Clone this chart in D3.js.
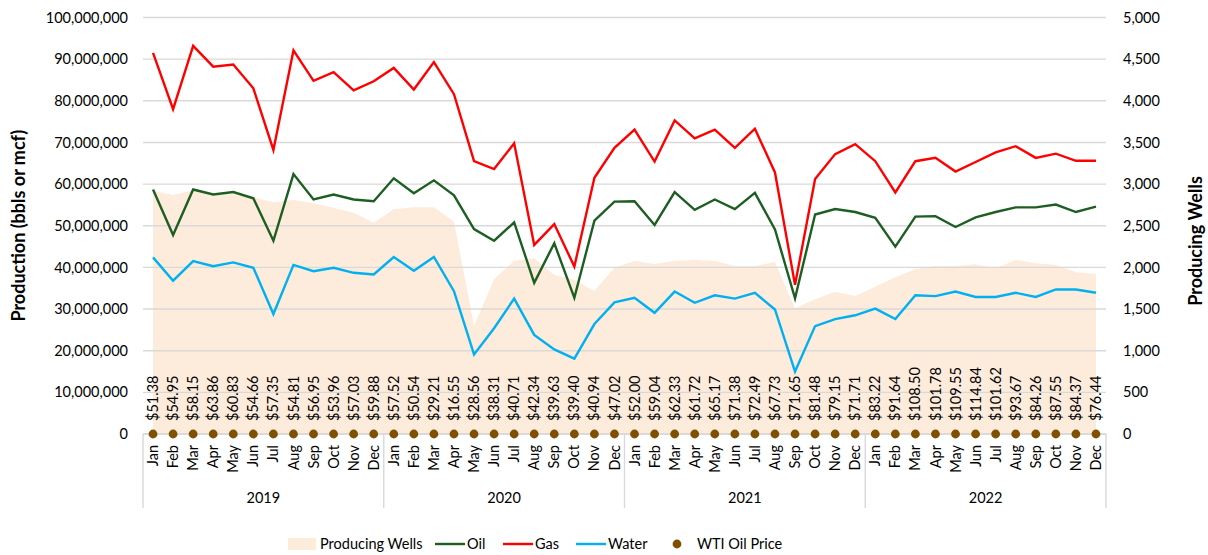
<!DOCTYPE html>
<html>
<head>
<meta charset="utf-8">
<script src="https://cdn.jsdelivr.net/npm/d3@7"></script>
<style>
  html, body { margin: 0; padding: 0; background: #fff; }
  svg { display: block; }
  text { font-family: Lato, "Open Sans", sans-serif; fill: #000; }
</style>
</head>
<body>
<svg id="chart" width="1208" height="555"></svg>
<script>
// ---------- DATA ----------
const years = ["2019", "2020", "2021", "2022"];
const months = ["Jan","Feb","Mar","Apr","May","Jun","Jul","Aug","Sep","Oct","Nov","Dec"];

const oil = [
  58.7, 47.8, 58.7, 57.5, 58.1, 56.6, 46.4, 62.4, 56.3, 57.5, 56.3, 55.9,
  61.4, 57.8, 60.9, 57.3, 49.2, 46.4, 50.8, 36.3, 45.8, 32.7, 51.2, 55.8,
  55.9, 50.2, 58.1, 53.8, 56.3, 54.0, 57.9, 49.1, 32.6, 52.7, 54.0, 53.3,
  51.9, 45.0, 52.2, 52.3, 49.7, 52.0, 53.3, 54.4, 54.4, 55.1, 53.3, 54.6
].map(v => v * 1e6);

const gas = [
  91.5, 78.0, 93.2, 88.2, 88.7, 83.0, 68.2, 92.1, 84.8, 86.9, 82.5, 84.7,
  87.9, 82.7, 89.3, 81.6, 65.5, 63.6, 69.8, 45.4, 50.4, 40.2, 61.5, 68.7,
  73.1, 65.4, 75.3, 71.0, 73.1, 68.7, 73.3, 62.8, 35.8, 61.2, 67.2, 69.6,
  65.5, 58.0, 65.5, 66.3, 63.0, 65.3, 67.6, 69.1, 66.3, 67.3, 65.6, 65.6
].map(v => v * 1e6);

const water = [
  42.4, 36.8, 41.5, 40.3, 41.2, 39.9, 28.8, 40.6, 39.1, 39.9, 38.7, 38.3,
  42.5, 39.2, 42.5, 34.3, 19.1, 25.4, 32.5, 23.8, 20.3, 18.1, 26.4, 31.6,
  32.7, 29.1, 34.2, 31.5, 33.3, 32.5, 33.9, 29.9, 15.0, 25.9, 27.6, 28.5,
  30.1, 27.6, 33.3, 33.1, 34.2, 32.9, 32.9, 33.9, 32.9, 34.7, 34.7, 33.9
].map(v => v * 1e6);

const producingWells = [
  2921, 2869, 2925, 2890, 2880, 2841, 2782, 2809, 2769, 2717, 2657, 2537,
  2697, 2721, 2721, 2549, 1297, 1857, 2081, 2109, 1909, 1849, 1717, 1995,
  2081, 2041, 2077, 2089, 2077, 2017, 2017, 2065, 1509, 1617, 1708, 1657,
  1768, 1881, 1977, 2017, 2017, 2037, 1989, 2089, 2049, 2029, 1941, 1921
];

const wtiPrice = [
  51.38, 54.95, 58.15, 63.86, 60.83, 54.66, 57.35, 54.81, 56.95, 53.96, 57.03, 59.88,
  57.52, 50.54, 29.21, 16.55, 28.56, 38.31, 40.71, 42.34, 39.63, 39.40, 40.94, 47.02,
  52.00, 59.04, 62.33, 61.72, 65.17, 71.38, 72.49, 67.73, 71.65, 81.48, 79.15, 71.71,
  83.22, 91.64, 108.50, 101.78, 109.55, 114.84, 101.62, 93.67, 84.26, 87.55, 84.37, 76.44
];

const leftTicks = d3.range(0, 100000001, 10000000);
const rightTicks = d3.range(0, 5001, 500);

// ---------- LAYOUT ----------
const svg = d3.select("#chart");
const X0 = 143, X1 = 1106, Y0 = 434, Y1 = 17.5;

const keys = [];
years.forEach(y => months.forEach(m => keys.push(y + "-" + m)));

const x = d3.scaleBand().domain(keys).range([X0, X1]).paddingInner(0).paddingOuter(0);
const cx = i => x(keys[i]) + x.bandwidth() / 2;
const yL = d3.scaleLinear().domain([0, 100000000]).range([Y0, Y1]);
const yR = d3.scaleLinear().domain([0, 5000]).range([Y0, Y1]);

const COL = { wells: "#fdebdb", oil: "#1d5f22", gas: "#ff0000", water: "#00b0f0", wti: "#7f5000", grid: "#d9d9d9" };

// Area (producing wells) on right axis
const area = d3.area()
  .x((d, i) => cx(i))
  .y0(Y0)
  .y1(d => yR(d));
svg.append("path")
  .datum(producingWells)
  .attr("d", area)
  .attr("fill", COL.wells);

// Gridlines
svg.append("g")
  .selectAll("line")
  .data(leftTicks)
  .join("line")
  .attr("x1", X0).attr("x2", X1)
  .attr("y1", d => yL(d)).attr("y2", d => yL(d))
  .attr("stroke", COL.grid).attr("stroke-width", 1.4);

// Left axis
const axL = svg.append("g").attr("transform", `translate(${X0},0)`)
  .call(d3.axisLeft(yL).tickValues(leftTicks).tickSize(0).tickPadding(15)
    .tickFormat(d => d3.format(",")(d)));
axL.select(".domain").remove();
axL.selectAll("text").style("font-size", "14.5px").style("font-family", "Lato, sans-serif");

// Right axis
const axR = svg.append("g").attr("transform", `translate(${X1},0)`)
  .call(d3.axisRight(yR).tickValues(rightTicks).tickSize(0).tickPadding(17)
    .tickFormat(d => d3.format(",")(d)));
axR.select(".domain").remove();
axR.selectAll("text").style("font-size", "14.5px").style("font-family", "Lato, sans-serif");

// Axis titles
svg.append("text")
  .attr("transform", `translate(25,${(Y0 + Y1) / 2}) rotate(-90)`)
  .attr("text-anchor", "middle")
  .style("font-size", "18px").style("font-weight", "bold")
  .text("Production (bbls or mcf)");
svg.append("text")
  .attr("transform", `translate(1202,241) rotate(-90)`)
  .attr("text-anchor", "middle")
  .style("font-size", "18px").style("font-weight", "bold")
  .text("Producing Wells");

// Lines
const line = d3.line().x((d, i) => cx(i)).y(d => yL(d));
[["oil", oil], ["gas", gas], ["water", water]].forEach(([k, arr]) => {
  svg.append("path")
    .datum(arr)
    .attr("d", line)
    .attr("fill", "none")
    .attr("stroke", COL[k])
    .attr("stroke-width", 2.4)
    .attr("stroke-linejoin", "miter");
});

// Category axis baseline
svg.append("line")
  .attr("x1", X0).attr("x2", X1).attr("y1", Y0).attr("y2", Y0)
  .attr("stroke", COL.grid).attr("stroke-width", 1.4);

// Year separators
const sepX = years.map((y, i) => x(keys[i * 12])).concat([X1]);
svg.append("g").selectAll("line").data(sepX).join("line")
  .attr("x1", d => d).attr("x2", d => d)
  .attr("y1", Y0).attr("y2", 508)
  .attr("stroke", COL.grid).attr("stroke-width", 1.4);

// Month labels
svg.append("g").selectAll("text").data(keys).join("text")
  .attr("transform", (d, i) => `translate(${cx(i)},445) rotate(-90)`)
  .attr("text-anchor", "end")
  .attr("dy", "0.35em")
  .style("font-size", "14.5px")
  .text(d => d.split("-")[1]);

// Year labels
svg.append("g").selectAll("text").data(years).join("text")
  .attr("x", (d, i) => (sepX[i] + sepX[i + 1]) / 2)
  .attr("y", 498)
  .attr("text-anchor", "middle")
  .attr("dy", "0.35em")
  .style("font-size", "14.5px")
  .text(d => d);

// WTI dots + labels
svg.append("g").selectAll("circle").data(wtiPrice).join("circle")
  .attr("cx", (d, i) => cx(i)).attr("cy", yL(0)).attr("r", 4.4)
  .attr("fill", COL.wti);
svg.append("g").selectAll("text").data(wtiPrice).join("text")
  .attr("transform", (d, i) => `translate(${cx(i)},421) rotate(-90)`)
  .attr("text-anchor", "start")
  .attr("dy", "0.35em")
  .style("font-size", "14.5px")
  .text(d => "$" + d3.format(".2f")(d));

// Legend
const LY = 544;
const lg = svg.append("g");
lg.append("rect").attr("x", 288).attr("y", LY - 6).attr("width", 28).attr("height", 12).attr("fill", COL.wells);
lg.append("text").attr("x", 320).attr("y", LY).attr("dy", "0.35em").style("font-size", "14.5px").text("Producing Wells");
[["oil", "Oil", 435], ["gas", "Gas", 503], ["water", "Water", 576]].forEach(([k, t, lx]) => {
  lg.append("line").attr("x1", lx).attr("x2", lx + 30).attr("y1", LY).attr("y2", LY)
    .attr("stroke", COL[k]).attr("stroke-width", 2.4);
  lg.append("text").attr("x", lx + 32).attr("y", LY).attr("dy", "0.35em").style("font-size", "14.5px").text(t);
});
lg.append("circle").attr("cx", 677).attr("cy", LY).attr("r", 4.4).attr("fill", COL.wti);
lg.append("text").attr("x", 697).attr("y", LY).attr("dy", "0.35em").style("font-size", "14.5px").text("WTI Oil Price");
</script>
</body>
</html>
